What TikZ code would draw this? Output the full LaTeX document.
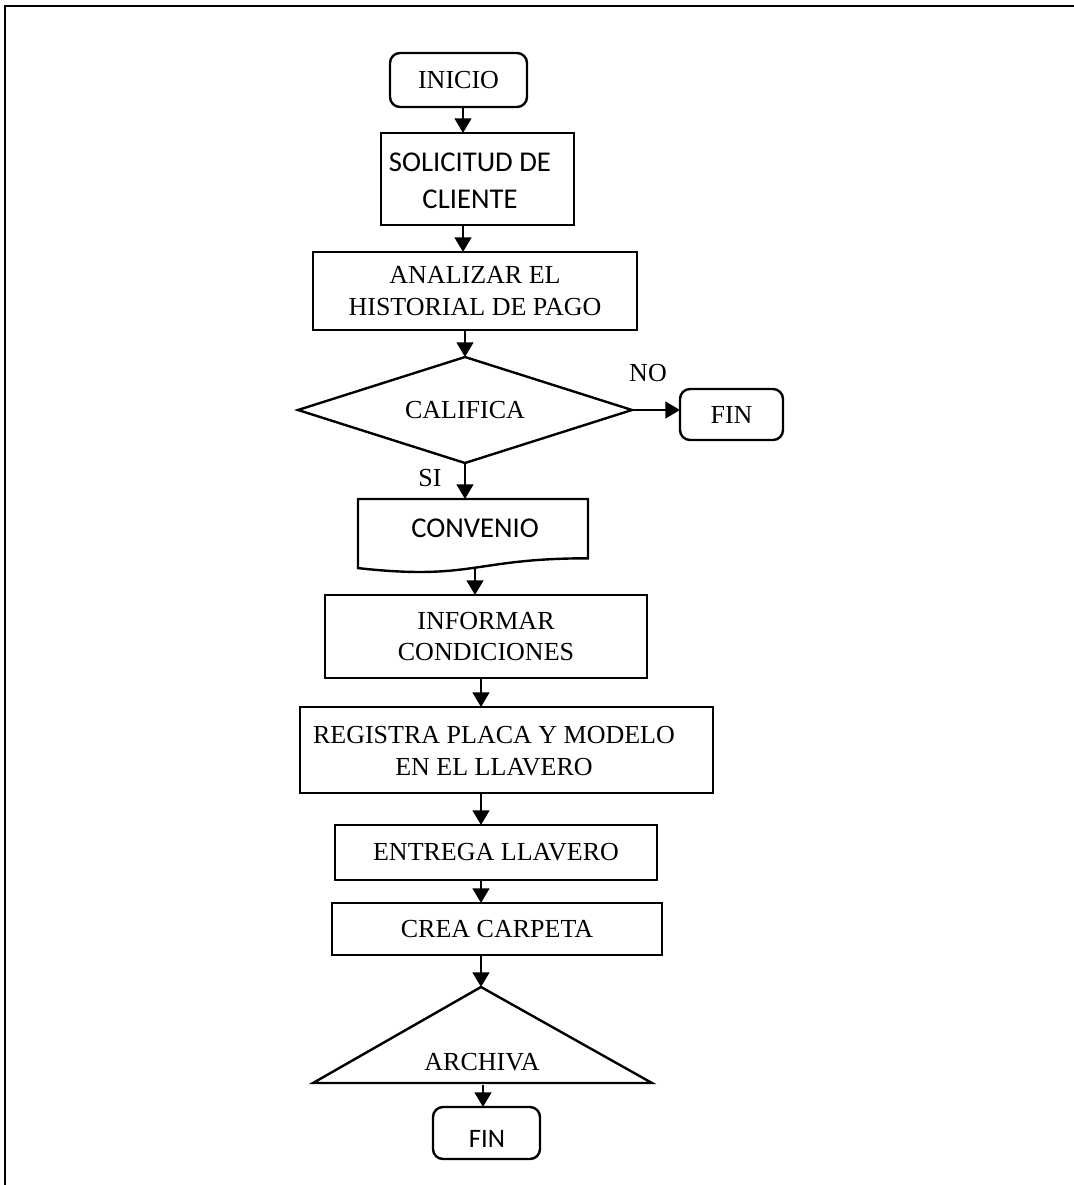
\documentclass[tikz,border=0pt]{standalone}
\usepackage{fontspec}
\setmainfont{Liberation Serif}
\newfontfamily\calibri{Carlito}
\usetikzlibrary{arrows.meta,shapes.geometric}
\newlength{\pxu}
\setlength{\pxu}{0.75pt}

\begin{document}
\begin{tikzpicture}[x=0.75pt,y=-0.75pt,
  every node/.style={inner sep=0pt, outer sep=0pt},
  tnr/.style={font=\fontsize{19.5}{23.5}\selectfont, align=center},
  cal/.style={font=\calibri\fontsize{21.5}{27.5}\selectfont, align=center},
  proc/.style={draw, line width=1.8pt},
  term/.style={draw, line width=1.8pt, rounded corners=7.5pt},
  arr/.style={line width=1.8pt, -{Triangle[width=12.5pt,length=11pt]}}
]
\useasboundingbox (0,0) rectangle (1074,1185);

% page frame (top and left edges)
\draw[line width=1.6pt] (1074,6) -- (5,6) -- (5,1185);

% columns of the vertical connectors
\coordinate (c1) at (463,0);
\coordinate (c2) at (465,0);
\coordinate (c4) at (481,0);

% start
\node[term, tnr, minimum width=137\pxu, minimum height=54\pxu] (inicio) at (458.5,80) {INICIO};

% customer request
\node[proc, minimum width=193\pxu, minimum height=92\pxu] (solicitud) at (477.5,179) {};
\node[cal] (soltxt) at (470,181) {SOLICITUD DE\\CLIENTE};

% payment history
\node[proc, tnr, minimum width=324\pxu, minimum height=78\pxu] (analizar) at (475,291) {ANALIZAR EL\\HISTORIAL DE PAGO};

% decision
\node[draw, diamond, line width=1.8pt, aspect=3.15, tnr, minimum width=334\pxu, minimum height=106\pxu] (califica) at (465,410) {CALIFICA};
\node[term, tnr, minimum width=103\pxu, minimum height=51\pxu] (finno) at (731.5,414.5) {FIN};
\node[tnr] (nolbl) at (648,373) {NO};
\node[tnr] (silbl) at (430,478) {SI};

% document: agreement
\draw[line width=1.8pt] (358,499) -- (588,499) -- (588,558.3)
  .. controls (473,558.3) and (473,580.8) .. (358,568.1) -- cycle;
\coordinate (convtop) at (475,499);
\coordinate (convbot) at (475,568);
\node[cal] (conv) at (475,528) {CONVENIO};

% remaining steps
\node[proc, tnr, minimum width=322\pxu, minimum height=83\pxu] (informar) at (486,636.5) {INFORMAR\\CONDICIONES};
\node[proc, minimum width=413\pxu, minimum height=86\pxu] (registra) at (506.5,750) {};
\node[tnr] (regtxt) at (494,751) {REGISTRA PLACA Y MODELO\\EN EL LLAVERO};
\node[proc, tnr, minimum width=322\pxu, minimum height=55\pxu] (entrega) at (496,852.5) {ENTREGA LLAVERO};
\node[proc, tnr, minimum width=330\pxu, minimum height=52\pxu] (crea) at (497,929) {CREA CARPETA};

% archive (triangle)
\coordinate (archtop) at (481,987);
\coordinate (archbase) at (483,1085);
\draw[line width=1.8pt] (archtop) -- (652,1083) -- (313,1083) -- cycle;
\node[tnr] (archiva) at (482,1062) {ARCHIVA};

% end
\node[term, minimum width=107\pxu, minimum height=52\pxu] (finend) at (486.5,1133) {};
\node[cal, font=\calibri\fontsize{20}{24}\selectfont] (fintxt) at (487,1139) {FIN};

% connectors
\draw[arr] (inicio.south -| c1) -- (solicitud.north -| c1);
\draw[arr] (solicitud.south -| c1) -- (analizar.north -| c1);
\draw[arr] (analizar.south -| c2) -- (califica.north);
\draw[arr] (califica.east) -- (califica.east -| finno.west);
\draw[arr] (califica.south) -- (califica.south |- convtop);
\draw[arr] (convbot) -- (convbot |- informar.north);
\draw[arr] (informar.south -| c4) -- (registra.north -| c4);
\draw[arr] (registra.south -| c4) -- (entrega.north -| c4);
\draw[arr] (entrega.south -| c4) -- (crea.north -| c4);
\draw[arr] (crea.south -| c4) -- (archtop);
\draw[arr] (archbase) -- (archbase |- finend.north);
\end{tikzpicture}
\end{document}
